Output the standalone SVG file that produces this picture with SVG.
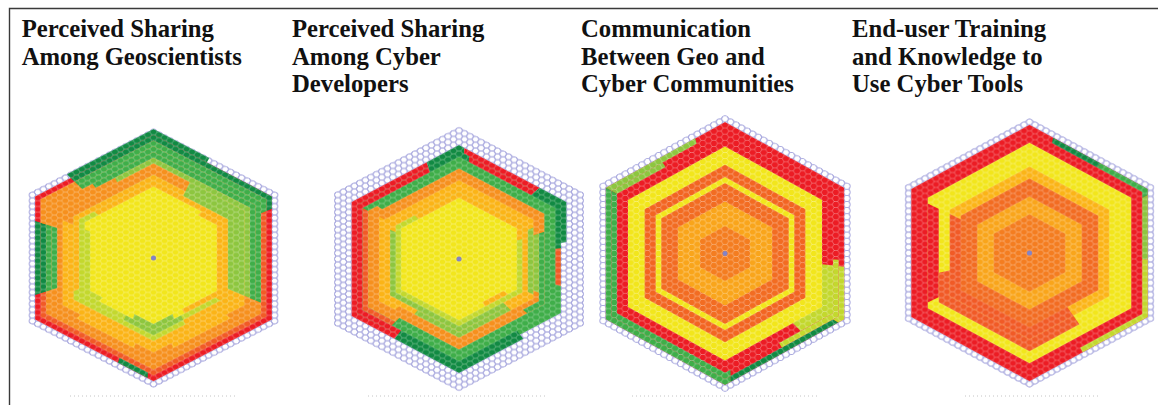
<svg xmlns="http://www.w3.org/2000/svg" xmlns:xlink="http://www.w3.org/1999/xlink" width="1158" height="405" viewBox="0 0 1158 405">
<style>
.title{font-family:"Liberation Serif","Times New Roman",serif;font-weight:bold;font-size:24.7px;fill:#111}
.frame{stroke:#3a3a3a;stroke-width:1.4;fill:none}
.axis{stroke:#c4c4c4;stroke-width:1;stroke-dasharray:1 3}
.dg{fill:#118a43}.g{fill:#3fae49}.lg{fill:#8dc63f}.yg{fill:#c3d82e}
.y{fill:#f2e61c}.go{fill:#fbb417}.o{fill:#f6901e}.or{fill:#f15a26}.r{fill:#ec1c24}
.o2{fill:#f26c22}.or2{fill:#f26522}.go2{fill:#f9a51b}.o3{fill:#f47d20}
.dot{fill:#8383c6}
</style>
<defs>
  <!-- unit pointy-top hexagon: ring k spans radius k+0.5 in chart units -->
  <polygon id="hx" points="0,-1 .866,-.5 .866,.5 0,1 -.866,.5 -.866,-.5"/>
  <!-- flat-top cell grid: rows 1 unit apart, columns 0.866 apart -->
  <pattern id="gridL" width="1.7321" height="1" patternUnits="userSpaceOnUse">
    <path d="M0,.5H.2887L.5774,0H1.1547L1.4434,.5H1.7321M.2887,.5L.5774,1H1.1547L1.4434,.5" fill="none" stroke="#8282d0" stroke-width=".17"/>
  </pattern>
  <pattern id="gridW" width="1.7321" height="1" patternUnits="userSpaceOnUse">
    <path d="M0,.5H.2887L.5774,0H1.1547L1.4434,.5H1.7321M.2887,.5L.5774,1H1.1547L1.4434,.5" fill="none" stroke="#ffffff" stroke-opacity=".38" stroke-width=".12"/>
  </pattern>
  <clipPath id="hexClip">
    <polygon points="0,-22.67 19.63,-11.335 19.63,11.335 0,22.67 -19.63,11.335 -19.63,-11.335"/>
  </clipPath>
</defs>

<rect width="1158" height="405" fill="#ffffff"/>
<path class="frame" d="M9.5,405V8.5H1158"/>

<!-- Panel 1 -->
<g id="panel-geoscientists">
  <text class="title" x="21.7" y="37">Perceived Sharing</text>
  <text class="title" x="21.7" y="64.5">Among Geoscientists</text>
  <g transform="translate(153.5,258) scale(6.36,5.73)">
    <rect x="-21" y="-24" width="42" height="48" fill="url(#gridL)" clip-path="url(#hexClip)"/>
    <path class="dg" transform="scale(22.5)" d="M0,0L-.606,-.65L0,-1L.39,-.775Z"/>
    <use href="#hx" class="r" transform="scale(21.5)"/>
    <path class="dg" transform="scale(21.5)" d="M0,0L-.606,-.65L0,-1L.866,-.5L.866,-.4Z"/>
    <path class="dg" transform="scale(21.5)" d="M0,0L-.043,.975L-.26,.85Z"/>
    <path class="dg" transform="scale(21.5)" d="M0,0L-.866,.3L-.866,-.3Z"/>
    <use href="#hx" class="or" transform="scale(20.5)"/>
    <path class="g" transform="scale(20.5)" d="M0,0L-.606,-.65L0,-1L.866,-.5L.866,-.4Z"/>
    <path class="dg" transform="scale(20.5)" d="M0,0L-.866,.3L-.866,-.3Z"/>
    <path class="o" transform="scale(20.5)" d="M0,0L-.866,-.3L-.866,-.5L-.606,-.65Z"/>
    <use href="#hx" class="o" transform="scale(19.5)"/>
    <path class="g" transform="scale(19.5)" d="M0,0L-.606,-.65L0,-1L.866,-.5L.866,.4Z"/>
    <path class="g" transform="scale(19.5)" d="M0,0L-.866,.3L-.866,-.3Z"/>
    <use href="#hx" class="o" transform="scale(18.5)"/>
    <path class="g" transform="scale(18.5)" d="M0,0L-.52,-.7L0,-1L.866,-.5L.866,.4Z"/>
    <path class="g" transform="scale(18.5)" d="M0,0L-.866,.3L-.866,-.3Z"/>
    <use href="#hx" class="o" transform="scale(17.5)"/>
    <path class="lg" transform="scale(17.5)" d="M0,0L-.346,-.8L0,-1L.866,-.5L.866,.4Z"/>
    <path class="go" transform="scale(17.5)" d="M0,0L.693,.6L.173,.9Z"/>
    <path class="go" transform="scale(17.5)" d="M0,0L-.173,.9L-.693,.6Z"/>
    <use href="#hx" class="go" transform="scale(16.5)"/>
    <path class="o" transform="scale(16.5)" d="M0,0L-.866,-.4L-.866,-.5L0,-1L.346,-.8Z"/>
    <path class="lg" transform="scale(16.5)" d="M0,0L.346,-.8L.866,-.5L.866,.4Z"/>
    <use href="#hx" class="yg" transform="scale(14.5)"/>
    <path class="go" transform="scale(14.5)" d="M0,0L-.866,.4L-.866,-.5L0,-1L.346,-.8Z"/>
    <path class="lg" transform="scale(14.5)" d="M0,0L.346,-.8L.866,-.5L.866,.4Z"/>
    <path class="go" transform="scale(14.5)" d="M0,0L.866,.4L.866,.5L.346,.8Z"/>
    <use href="#hx" class="yg" transform="scale(13.5)"/>
    <path class="go" transform="scale(13.5)" d="M0,0L-.693,-.6L0,-1L.52,-.7Z"/>
    <path class="go" transform="scale(13.5)" d="M0,0L.52,-.7L.866,-.5L.866,.5L.779,.55Z"/>
    <path class="lg" transform="scale(13.5)" d="M0,0L.346,.8L0,1L-.346,.8Z"/>
    <use href="#hx" class="y" transform="scale(12.5)"/>
    <path class="go" transform="scale(12.5)" d="M0,0L.606,-.65L.866,-.5L.866,.5L.779,.55Z"/>
    <path class="yg" transform="scale(12.5)" d="M0,0L-.693,.6L-.866,.5L-.866,-.4Z"/>
    <path class="lg" transform="scale(12.5)" d="M0,0L.26,.85L0,1L-.26,.85Z"/>
    <path class="go" transform="scale(12.5)" d="M0,0L.779,.55L.39,.775Z"/>
    <use href="#hx" class="y" transform="scale(11.5)"/>
    <rect x="-21" y="-24" width="42" height="48" fill="url(#gridW)" clip-path="url(#hexClip)"/>
    <ellipse class="dot" rx=".4" ry=".44"/>
  </g>
  <line class="axis" x1="70" y1="396" x2="235" y2="396"/>
</g>

<!-- Panel 2 -->
<g id="panel-cyber-developers">
  <text class="title" x="292" y="37">Perceived Sharing</text>
  <text class="title" x="292" y="64.5">Among Cyber</text>
  <text class="title" x="292" y="92">Developers</text>
  <g transform="translate(459,259) scale(6.36,5.84)">
    <rect x="-21" y="-24" width="42" height="48" fill="url(#gridL)" clip-path="url(#hexClip)"/>
    <path class="r" transform="scale(19.5)" d="M0,0L-.52,.7L-.866,.5L-.866,-.5L-.26,-.85Z"/>
    <path class="dg" transform="scale(19.5)" d="M0,0L-.26,-.85L0,-1L.043,-.975Z"/>
    <path class="r" transform="scale(19.5)" d="M0,0L.043,-.975L.65,-.625Z"/>
    <path class="dg" transform="scale(19.5)" d="M0,0L.65,-.625L.866,-.5L.866,-.15Z"/>
    <path class="dg" transform="scale(19.5)" d="M0,0L.52,.7L0,1L-.52,.7Z"/>
    <use href="#hx" class="g" transform="scale(18.5)"/>
    <path class="r" transform="scale(18.5)" d="M0,0L-.52,.7L-.866,.5L-.866,-.5L-.26,-.85Z"/>
    <path class="dg" transform="scale(18.5)" d="M0,0L-.26,-.85L0,-1L.087,-.95Z"/>
    <path class="r" transform="scale(18.5)" d="M0,0L.087,-.95L.65,-.625Z"/>
    <path class="dg" transform="scale(18.5)" d="M0,0L.65,-.625L.866,-.5L.866,-.1Z"/>
    <path class="or" transform="scale(18.5)" d="M0,0L.866,-.1L.866,.25Z"/>
    <path class="dg" transform="scale(18.5)" d="M0,0L.52,.7L0,1L-.52,.7Z"/>
    <use href="#hx" class="g" transform="scale(17.5)"/>
    <path class="or" transform="scale(17.5)" d="M0,0L-.606,.65L-.866,.5L-.866,-.5Z"/>
    <use href="#hx" class="g" transform="scale(16.5)"/>
    <path class="o" transform="scale(16.5)" d="M0,0L-.606,.65L-.866,.5L-.866,-.5L-.779,-.55Z"/>
    <use href="#hx" class="o" transform="scale(15.5)"/>
    <path class="g" transform="scale(15.5)" d="M0,0L.866,-.3L.866,.5L.693,.6Z"/>
    <use href="#hx" class="o" transform="scale(14.5)"/>
    <path class="go" transform="scale(14.5)" d="M0,0L-.693,.6L-.866,.5L-.866,-.5Z"/>
    <path class="lg" transform="scale(14.5)" d="M0,0L.866,-.3L.866,.4Z"/>
    <use href="#hx" class="go" transform="scale(13.5)"/>
    <path class="lg" transform="scale(13.5)" d="M0,0L.866,-.4L.866,.45Z"/>
    <path class="lg" transform="scale(13.5)" d="M0,0L.606,.65L0,1L-.52,.7Z"/>
    <use href="#hx" class="go" transform="scale(12.5)"/>
    <path class="lg" transform="scale(12.5)" d="M0,0L.606,.65L0,1L-.866,.5L-.866,-.4Z"/>
    <use href="#hx" class="yg" transform="scale(11.5)"/>
    <path class="go" transform="scale(11.5)" d="M0,0L-.606,-.65L0,-1L.866,-.5L.866,-.3Z"/>
    <use href="#hx" class="y" transform="scale(10.5)"/>
    <path class="go" transform="scale(10.5)" d="M0,0L.736,.575L.39,.775Z"/>
    <use href="#hx" class="y" transform="scale(9.5)"/>
    <rect x="-21" y="-24" width="42" height="48" fill="url(#gridW)" clip-path="url(#hexClip)"/>
    <ellipse class="dot" rx=".4" ry=".43"/>
  </g>
  <line class="axis" x1="368" y1="396" x2="548" y2="396"/>
</g>

<!-- Panel 3 -->
<g id="panel-communication">
  <text class="title" x="581" y="37">Communication</text>
  <text class="title" x="581" y="64.5">Between Geo and</text>
  <text class="title" x="581" y="92">Cyber Communities</text>
  <g transform="translate(725,253.5) scale(6.40,6.12)">
    <rect x="-21" y="-24" width="42" height="48" fill="url(#gridL)" clip-path="url(#hexClip)"/>
    <use href="#hx" class="r" transform="scale(21.5)"/>
    <path class="lg" transform="scale(21.5)" d="M0,0L-.866,-.5L-.217,-.875Z"/>
    <path class="g" transform="scale(21.5)" d="M0,0L.043,.975L0,1L-.866,.5L-.866,-.5Z"/>
    <path class="dg" transform="scale(21.5)" d="M0,0L.823,.525L.043,.975Z"/>
    <path class="yg" transform="scale(21.5)" d="M0,0L.866,.1L.866,.5L.823,.525Z"/>
    <use href="#hx" class="r" transform="scale(20.5)"/>
    <path class="lg" transform="scale(20.5)" d="M0,0L-.866,-.5L-.476,-.725Z"/>
    <path class="g" transform="scale(20.5)" d="M0,0L.043,.975L0,1L-.866,.5L-.866,-.5Z"/>
    <path class="yg" transform="scale(20.5)" d="M0,0L.866,.05L.866,.5L.433,.75Z"/>
    <use href="#hx" class="r" transform="scale(19.5)"/>
    <path class="yg" transform="scale(19.5)" d="M0,0L.866,.1L.866,.5L.606,.65Z"/>
    <use href="#hx" class="y" transform="scale(17.5)"/>
    <use href="#hx" class="or2" transform="scale(14.5)"/>
    <use href="#hx" class="y" transform="scale(12.5)"/>
    <use href="#hx" class="o2" transform="scale(11.5)"/>
    <use href="#hx" class="go2" transform="scale(8.5)"/>
    <use href="#hx" class="o3" transform="scale(4.5)"/>
    <rect x="-21" y="-24" width="42" height="48" fill="url(#gridW)" clip-path="url(#hexClip)"/>
    <ellipse class="dot" rx=".39" ry=".41"/>
  </g>
  <line class="axis" x1="632" y1="396" x2="820" y2="396"/>
</g>

<!-- Panel 4 -->
<g id="panel-training">
  <text class="title" x="852" y="37">End-user Training</text>
  <text class="title" x="852" y="64.5">and Knowledge to</text>
  <text class="title" x="852" y="92">Use Cyber Tools</text>
  <g transform="translate(1029.5,253) scale(6.35,5.96)">
    <rect x="-21" y="-24" width="42" height="48" fill="url(#gridL)" clip-path="url(#hexClip)"/>
    <use href="#hx" class="r" transform="scale(21.5)"/>
    <path class="dg" transform="scale(21.5)" d="M0,0L.173,-.9L.52,-.7Z"/>
    <path class="g" transform="scale(21.5)" d="M0,0L.52,-.7L.866,-.5L.866,-.45Z"/>
    <path class="lg" transform="scale(21.5)" d="M0,0L.866,-.45L.866,.05Z"/>
    <path class="yg" transform="scale(21.5)" d="M0,0L.866,.05L.866,.5L.39,.775Z"/>
    <use href="#hx" class="r" transform="scale(20.5)"/>
    <use href="#hx" class="y" transform="scale(18.5)"/>
    <path class="r" transform="scale(18.5)" d="M0,0L-.866,.45L-.866,-.45Z"/>
    <use href="#hx" class="y" transform="scale(16.5)"/>
    <path class="or" transform="scale(16.5)" d="M0,0L.476,.725L0,1L-.866,.5L-.866,.2Z"/>
    <use href="#hx" class="go" transform="scale(14.5)"/>
    <path class="or" transform="scale(14.5)" d="M0,0L.476,.725L0,1L-.866,.5L-.866,-.45Z"/>
    <use href="#hx" class="o2" transform="scale(12.5)"/>
    <use href="#hx" class="go2" transform="scale(9.5)"/>
    <use href="#hx" class="o3" transform="scale(6.5)"/>
    <rect x="-21" y="-24" width="42" height="48" fill="url(#gridW)" clip-path="url(#hexClip)"/>
    <ellipse class="dot" rx=".4" ry=".42"/>
  </g>
  <line class="axis" x1="965" y1="396" x2="1100" y2="396"/>
</g>
</svg>
